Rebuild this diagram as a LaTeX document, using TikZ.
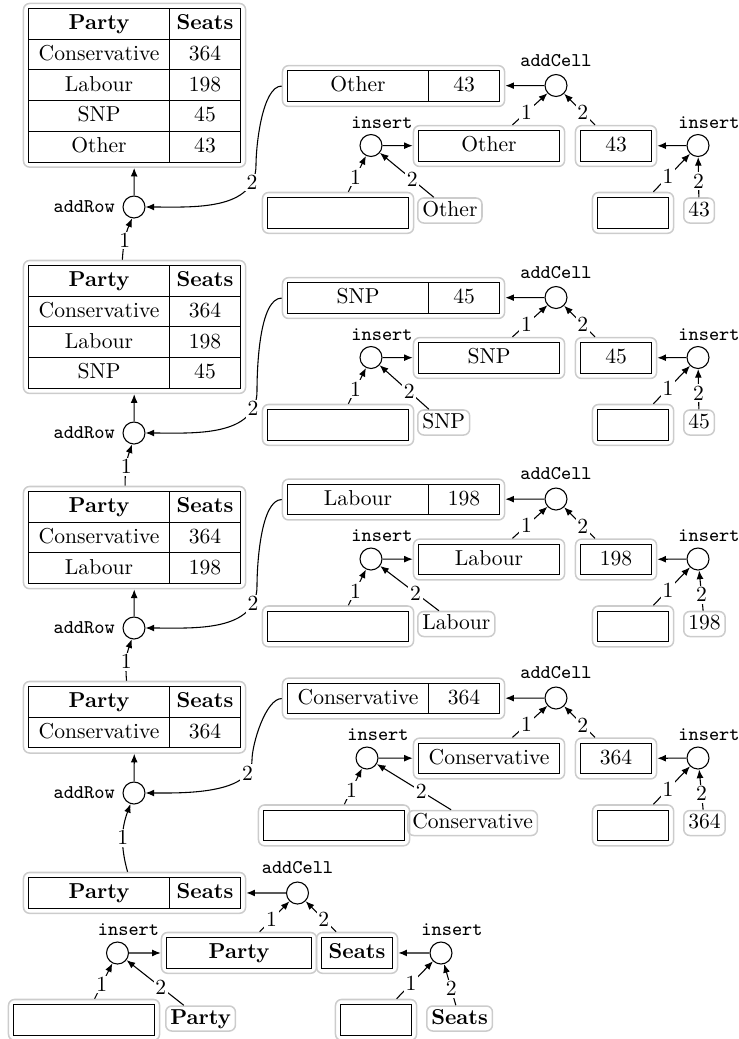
\documentclass[tikz,border=0pt]{standalone}
\usetikzlibrary{arrows.meta,fit}
\newdimen\pxu
\pxu=0.4634pt
% one stage of the right-hand side: #1 id, #2 row centre y, #3 party, #4 seats, #5 dx left group, #6 dx left literal
\newcommand\mystage[6]{%
  \node[wide] (r#1a) at (287,{#2-15.35}) {#3};
  \node[narrow] (r#1b) at (428,{#2-15.35}) {#4};
  \node[holder={(r#1a)(r#1b)}] (R#1) {};
  \node[op, label={[opname]above:addCell}] (ac#1) at (556,#2) {};
  \node[wide] (m#1a) at (418,{#2+44.65}) {#3};
  \node[holder={(m#1a)}] (M#1) {};
  \node[narrow] (v#1a) at (580,{#2+44.65}) {#4};
  \node[holder={(v#1a)}] (V#1) {};
  \node[op, insertlabel] (il#1) at ({371+#5},{#2+60}) {};
  \node[op, insertlabel] (ir#1) at (698,{#2+60}) {};
  \node[wide] (bl#1a) at ({267+#5},{#2+111.5}) {};
  \node[holder={(bl#1a)}] (BL#1) {};
  \node[narrow] (br#1a) at (597,{#2+111.5}) {};
  \node[holder={(br#1a)}] (BR#1) {};
  \node[lit] (ll#1) at ({417+#6},{#2+125}) {#3};
  \node[lit] (lr#1) at (683,{#2+125}) {#4};
  \draw[flow] (ac#1) -- (R#1);
  \draw[flow] (M#1) -- node[lbl]{1} (ac#1);
  \draw[flow] (V#1) -- node[lbl]{2} (ac#1);
  \draw[flow] (il#1) -- (M#1);
  \draw[flow] (ir#1) -- (V#1);
  \draw[flow] (BL#1) -- node[lbl]{1} (il#1);
  \draw[flow] (ll#1) -- node[lbl]{2} (il#1);
  \draw[flow] (BR#1) -- node[lbl]{1} (ir#1);
  \draw[flow] (lr#1) -- node[lbl]{2} (ir#1);
}
\begin{document}
\begin{tikzpicture}[x=\pxu,y=-\pxu, line width=0.5pt,
  txt/.style={text height=1.5ex, text depth=.25ex},
  cellbox/.style={draw, rectangle, inner sep=0pt, minimum height=14.23pt, anchor=north west, txt},
  wide/.style={cellbox, minimum width=65.34pt},
  narrow/.style={cellbox, minimum width=32.9pt},
  holder/.style={draw=gray!40, line width=0.7pt, rounded corners=2.8pt, inner sep=2.09pt, fit=#1},
  lit/.style={draw=gray!40, line width=0.7pt, rounded corners=2.8pt, inner xsep=2.09pt, inner ysep=0pt, minimum height=11.59pt, anchor=west, txt},
  op/.style={circle, draw, minimum size=10.19pt, inner sep=0pt},
  opname/.style={font=\small\ttfamily},
  insertlabel/.style={label={[opname,xshift=5.1pt,label distance=-1pt]above:insert}},
  flow/.style={-{Latex[length=4pt,width=3.2pt]}},
  lbl/.style={fill=white, inner sep=0.8pt, pos=0.4},
]
\useasboundingbox (0,0) rectangle (739,1039);

% ---------- left column: tables ----------
\node[wide, font=\bfseries] (t1h) at (28,8) {Party};
\node[narrow, font=\bfseries] (t1s) at (169,8) {Seats};
\foreach \p/\s [count=\i] in {Conservative/364,Labour/198,SNP/45,Other/43}
  {\node[wide] (t1p\i) at (28,{8+30.7*\i}) {\p};
   \node[narrow] (t1s\i) at (169,{8+30.7*\i}) {\s};}
\node[holder={(t1h)(t1s4)}] (T1) {};

\node[wide, font=\bfseries] (t2h) at (28,265) {Party};
\node[narrow, font=\bfseries] (t2s) at (169,265) {Seats};
\foreach \p/\s [count=\i] in {Conservative/364,Labour/198,SNP/45}
  {\node[wide] (t2p\i) at (28,{265+30.7*\i}) {\p};
   \node[narrow] (t2s\i) at (169,{265+30.7*\i}) {\s};}
\node[holder={(t2h)(t2s3)}] (T2) {};

\node[wide, font=\bfseries] (t3h) at (28,491) {Party};
\node[narrow, font=\bfseries] (t3s) at (169,491) {Seats};
\foreach \p/\s [count=\i] in {Conservative/364,Labour/198}
  {\node[wide] (t3p\i) at (28,{491+30.7*\i}) {\p};
   \node[narrow] (t3s\i) at (169,{491+30.7*\i}) {\s};}
\node[holder={(t3h)(t3s2)}] (T3) {};

\node[wide, font=\bfseries] (t4h) at (28,686) {Party};
\node[narrow, font=\bfseries] (t4s) at (169,686) {Seats};
\node[wide] (t4p1) at (28,716.7) {Conservative};
\node[narrow] (t4s1) at (169,716.7) {364};
\node[holder={(t4h)(t4s1)}] (T4) {};

% addRow operators
\node[op, label={[opname]left:addRow}] (ar1) at (134,207) {};
\node[op, label={[opname]left:addRow}] (ar2) at (134,433) {};
\node[op, label={[opname]left:addRow}] (ar3) at (134,628) {};
\node[op, label={[opname]left:addRow}] (ar4) at (134,793) {};

% ---------- right-hand stages ----------
\mystage{1}{85.5}{Other}{43}{0}{0}
\mystage{2}{297.5}{SNP}{45}{0}{0}
\mystage{3}{499}{Labour}{198}{0}{0}
\mystage{4}{698}{Conservative}{364}{-4}{-10}

% ---------- bottom stage: header row ----------
\node[wide, font=\bfseries] (r5a) at (28,877) {Party};
\node[narrow, font=\bfseries] (r5b) at (169,877) {Seats};
\node[holder={(r5a)(r5b)}] (R5) {};
\node[op, label={[opname]above:addCell}] (ac5) at (297.5,893) {};
\node[cellbox, minimum width=67.2pt, font=\bfseries] (m5a) at (166,937) {Party};
\node[holder={(m5a)}] (M5) {};
\node[narrow, font=\bfseries] (v5a) at (321,937) {Seats};
\node[holder={(v5a)}] (V5) {};
\node[op, insertlabel] (il5) at (117.5,953) {};
\node[op, insertlabel] (ir5) at (441,953) {};
\node[wide] (bl5a) at (13,1004) {};
\node[holder={(bl5a)}] (BL5) {};
\node[narrow] (br5a) at (340,1004) {};
\node[holder={(br5a)}] (BR5) {};
\node[lit, font=\bfseries] (ll5) at (165,1018.5) {Party};
\node[lit, font=\bfseries] (lr5) at (426,1018.5) {Seats};
\draw[flow] (ac5) -- (R5);
\draw[flow] (M5) -- node[lbl]{1} (ac5);
\draw[flow] (V5) -- node[lbl]{2} (ac5);
\draw[flow] (il5) -- (M5);
\draw[flow] (ir5) -- (V5);
\draw[flow] (BL5) -- node[lbl]{1} (il5);
\draw[flow] (ll5) -- node[lbl]{2} (il5);
\draw[flow] (BR5) -- node[lbl]{1} (ir5);
\draw[flow] (lr5) -- node[lbl]{2} (ir5);

% ---------- left column connectors ----------
\draw[flow] (ar1) -- (T1);
\draw[flow] (ar2) -- (T2);
\draw[flow] (ar3) -- (T3);
\draw[flow] (ar4) -- (T4);
\draw[flow] (T2) to[bend left=10] node[lbl,pos=0.45]{1} (ar1);
\draw[flow] (T3) to[bend left=10] node[lbl,pos=0.45]{1} (ar2);
\draw[flow] (T4) to[bend left=12] node[lbl,pos=0.45]{1} (ar3);
\draw[flow] (R5) to[bend left=18] node[lbl,pos=0.5]{1} (ar4);

\coordinate (k1) at (256,165);
\coordinate (k2) at (257,391);
\coordinate (k3) at (257,586);
\coordinate (k4) at (252,760);
\draw[flow] (R1.west) to[out=180,in=90,looseness=0.6] (k1) to[out=-90,in=0] node[lbl,pos=0.15]{2} (ar1.east);
\draw[flow] (R2.west) to[out=180,in=90,looseness=0.6] (k2) to[out=-90,in=0] node[lbl,pos=0.15]{2} (ar2.east);
\draw[flow] (R3.west) to[out=180,in=90,looseness=0.6] (k3) to[out=-90,in=0] node[lbl,pos=0.15]{2} (ar3.east);
\draw[flow] (R4.west) to[out=180,in=90,looseness=0.6] (k4) to[out=-90,in=0,looseness=0.8] node[lbl,pos=0.15]{2} (ar4.east);
\end{tikzpicture}
\end{document}
